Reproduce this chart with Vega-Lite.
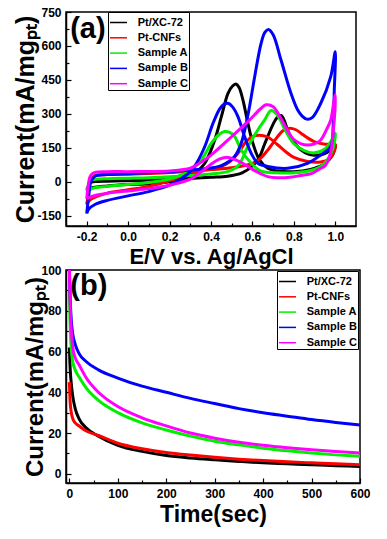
{
  "$schema": "https://vega.github.io/schema/vega-lite/v6.json",
  "background": "white",
  "padding": {"left": 13, "top": 5, "right": 5, "bottom": 5},
  "bounds": "flush",
  "spacing": 44,
  "config": {
    "font": "Liberation Sans",
    "view": {"stroke": "black", "strokeWidth": 1.5},
    "axis": {"domainColor": "black", "domainWidth": 1.5, "tickColor": "black", "tickWidth": 1.2, "labelColor": "black", "labelFontWeight": "bold", "labelFontSize": 12, "labelFont": "Liberation Sans", "titleFont": "Liberation Sans", "titleFontWeight": "bold", "titleColor": "black", "grid": false, "labelOverlap": false, "labelFlush": false},
    "legend": {"labelFont": "Liberation Sans", "labelFontWeight": "bold", "labelFontSize": 11, "labelColor": "black", "symbolType": "stroke", "symbolStrokeWidth": 1.5, "symbolSize": 289, "rowPadding": 0.3, "padding": 1, "labelOffset": 9.7, "strokeColor": "black", "fillColor": "white"}
  },
  "resolve": {"scale": {"color": "independent"}, "legend": {"color": "independent"}},
  "datasets": {
    "cv": [
      {"s":"Pt/XC-72","i":0,"E":-0.2,"I":-35},{"s":"Pt/XC-72","i":1,"E":-0.19,"I":-15},{"s":"Pt/XC-72","i":2,"E":-0.18,"I":-3},{"s":"Pt/XC-72","i":3,"E":-0.15,"I":2},{"s":"Pt/XC-72","i":4,"E":-0.1,"I":3},{"s":"Pt/XC-72","i":5,"E":0,"I":5},{"s":"Pt/XC-72","i":6,"E":0.1,"I":7},{"s":"Pt/XC-72","i":7,"E":0.2,"I":10},{"s":"Pt/XC-72","i":8,"E":0.3,"I":15},{"s":"Pt/XC-72","i":9,"E":0.4,"I":20},{"s":"Pt/XC-72","i":10,"E":0.48,"I":25},{"s":"Pt/XC-72","i":11,"E":0.55,"I":40},{"s":"Pt/XC-72","i":12,"E":0.6,"I":70},{"s":"Pt/XC-72","i":13,"E":0.634,"I":110},{"s":"Pt/XC-72","i":14,"E":0.658,"I":165},{"s":"Pt/XC-72","i":15,"E":0.7,"I":255},{"s":"Pt/XC-72","i":16,"E":0.72,"I":285},{"s":"Pt/XC-72","i":17,"E":0.738,"I":293},{"s":"Pt/XC-72","i":18,"E":0.755,"I":268},{"s":"Pt/XC-72","i":19,"E":0.77,"I":228},{"s":"Pt/XC-72","i":20,"E":0.8,"I":175},{"s":"Pt/XC-72","i":21,"E":0.834,"I":141},{"s":"Pt/XC-72","i":22,"E":0.87,"I":122},{"s":"Pt/XC-72","i":23,"E":0.898,"I":117},{"s":"Pt/XC-72","i":24,"E":0.94,"I":122},{"s":"Pt/XC-72","i":25,"E":0.978,"I":140},{"s":"Pt/XC-72","i":26,"E":1.0,"I":165},
      {"s":"Pt/XC-72","i":27,"E":0.99,"I":125},{"s":"Pt/XC-72","i":28,"E":0.97,"I":98},{"s":"Pt/XC-72","i":29,"E":0.94,"I":75},{"s":"Pt/XC-72","i":30,"E":0.88,"I":55},{"s":"Pt/XC-72","i":31,"E":0.8,"I":45},{"s":"Pt/XC-72","i":32,"E":0.72,"I":48},{"s":"Pt/XC-72","i":33,"E":0.674,"I":60},{"s":"Pt/XC-72","i":34,"E":0.634,"I":97},{"s":"Pt/XC-72","i":35,"E":0.602,"I":171},{"s":"Pt/XC-72","i":36,"E":0.578,"I":259},{"s":"Pt/XC-72","i":37,"E":0.554,"I":362},{"s":"Pt/XC-72","i":38,"E":0.535,"I":418},{"s":"Pt/XC-72","i":39,"E":0.52,"I":432},{"s":"Pt/XC-72","i":40,"E":0.503,"I":422},{"s":"Pt/XC-72","i":41,"E":0.482,"I":391},{"s":"Pt/XC-72","i":42,"E":0.45,"I":288},{"s":"Pt/XC-72","i":43,"E":0.418,"I":185},{"s":"Pt/XC-72","i":44,"E":0.37,"I":82},{"s":"Pt/XC-72","i":45,"E":0.322,"I":38},{"s":"Pt/XC-72","i":46,"E":0.28,"I":15},{"s":"Pt/XC-72","i":47,"E":0.2,"I":0},{"s":"Pt/XC-72","i":48,"E":0.1,"I":-8},{"s":"Pt/XC-72","i":49,"E":0,"I":-12},{"s":"Pt/XC-72","i":50,"E":-0.1,"I":-18},{"s":"Pt/XC-72","i":51,"E":-0.17,"I":-25},{"s":"Pt/XC-72","i":52,"E":-0.2,"I":-35},

      {"s":"Pt-CNFs","i":0,"E":-0.2,"I":-100},{"s":"Pt-CNFs","i":1,"E":-0.19,"I":-40},{"s":"Pt-CNFs","i":2,"E":-0.18,"I":10},{"s":"Pt-CNFs","i":3,"E":-0.16,"I":28},{"s":"Pt-CNFs","i":4,"E":-0.1,"I":32},{"s":"Pt-CNFs","i":5,"E":0,"I":34},{"s":"Pt-CNFs","i":6,"E":0.1,"I":37},{"s":"Pt-CNFs","i":7,"E":0.2,"I":41},{"s":"Pt-CNFs","i":8,"E":0.3,"I":47},{"s":"Pt-CNFs","i":9,"E":0.4,"I":54},{"s":"Pt-CNFs","i":10,"E":0.5,"I":62},{"s":"Pt-CNFs","i":11,"E":0.6,"I":82},{"s":"Pt-CNFs","i":12,"E":0.64,"I":105},{"s":"Pt-CNFs","i":13,"E":0.674,"I":140},{"s":"Pt-CNFs","i":14,"E":0.722,"I":200},{"s":"Pt-CNFs","i":15,"E":0.75,"I":228},{"s":"Pt-CNFs","i":16,"E":0.78,"I":237},{"s":"Pt-CNFs","i":17,"E":0.81,"I":230},{"s":"Pt-CNFs","i":18,"E":0.834,"I":215},{"s":"Pt-CNFs","i":19,"E":0.87,"I":192},{"s":"Pt-CNFs","i":20,"E":0.898,"I":178},{"s":"Pt-CNFs","i":21,"E":0.95,"I":166},{"s":"Pt-CNFs","i":22,"E":1.0,"I":163},
      {"s":"Pt-CNFs","i":23,"E":0.99,"I":125},{"s":"Pt-CNFs","i":24,"E":0.97,"I":100},{"s":"Pt-CNFs","i":25,"E":0.93,"I":88},{"s":"Pt-CNFs","i":26,"E":0.866,"I":90},{"s":"Pt-CNFs","i":27,"E":0.8,"I":108},{"s":"Pt-CNFs","i":28,"E":0.77,"I":126},{"s":"Pt-CNFs","i":29,"E":0.72,"I":165},{"s":"Pt-CNFs","i":30,"E":0.674,"I":198},{"s":"Pt-CNFs","i":31,"E":0.63,"I":206},{"s":"Pt-CNFs","i":32,"E":0.6,"I":200},{"s":"Pt-CNFs","i":33,"E":0.57,"I":178},{"s":"Pt-CNFs","i":34,"E":0.53,"I":126},{"s":"Pt-CNFs","i":35,"E":0.49,"I":88},{"s":"Pt-CNFs","i":36,"E":0.45,"I":68},{"s":"Pt-CNFs","i":37,"E":0.4,"I":56},{"s":"Pt-CNFs","i":38,"E":0.35,"I":48},{"s":"Pt-CNFs","i":39,"E":0.28,"I":28},{"s":"Pt-CNFs","i":40,"E":0.2,"I":5},{"s":"Pt-CNFs","i":41,"E":0.1,"I":-20},{"s":"Pt-CNFs","i":42,"E":0,"I":-35},{"s":"Pt-CNFs","i":43,"E":-0.1,"I":-50},{"s":"Pt-CNFs","i":44,"E":-0.16,"I":-68},{"s":"Pt-CNFs","i":45,"E":-0.19,"I":-85},{"s":"Pt-CNFs","i":46,"E":-0.2,"I":-100},

      {"s":"Sample A","i":0,"E":-0.2,"I":-40},{"s":"Sample A","i":1,"E":-0.19,"I":-15},{"s":"Sample A","i":2,"E":-0.18,"I":5},{"s":"Sample A","i":3,"E":-0.15,"I":12},{"s":"Sample A","i":4,"E":-0.1,"I":14},{"s":"Sample A","i":5,"E":0,"I":16},{"s":"Sample A","i":6,"E":0.1,"I":18},{"s":"Sample A","i":7,"E":0.2,"I":22},{"s":"Sample A","i":8,"E":0.3,"I":28},{"s":"Sample A","i":9,"E":0.4,"I":35},{"s":"Sample A","i":10,"E":0.48,"I":45},{"s":"Sample A","i":11,"E":0.53,"I":70},{"s":"Sample A","i":12,"E":0.578,"I":156},{"s":"Sample A","i":13,"E":0.626,"I":229},{"s":"Sample A","i":14,"E":0.66,"I":275},{"s":"Sample A","i":15,"E":0.69,"I":315},{"s":"Sample A","i":16,"E":0.72,"I":295},{"s":"Sample A","i":17,"E":0.76,"I":225},{"s":"Sample A","i":18,"E":0.8,"I":168},{"s":"Sample A","i":19,"E":0.85,"I":138},{"s":"Sample A","i":20,"E":0.9,"I":128},{"s":"Sample A","i":21,"E":0.95,"I":145},{"s":"Sample A","i":22,"E":0.98,"I":180},{"s":"Sample A","i":23,"E":1.0,"I":215},
      {"s":"Sample A","i":24,"E":0.99,"I":150},{"s":"Sample A","i":25,"E":0.97,"I":110},{"s":"Sample A","i":26,"E":0.94,"I":75},{"s":"Sample A","i":27,"E":0.88,"I":50},{"s":"Sample A","i":28,"E":0.8,"I":40},{"s":"Sample A","i":29,"E":0.72,"I":40},{"s":"Sample A","i":30,"E":0.642,"I":47},{"s":"Sample A","i":31,"E":0.594,"I":82},{"s":"Sample A","i":32,"E":0.546,"I":141},{"s":"Sample A","i":33,"E":0.514,"I":200},{"s":"Sample A","i":34,"E":0.49,"I":218},{"s":"Sample A","i":35,"E":0.466,"I":222},{"s":"Sample A","i":36,"E":0.44,"I":210},{"s":"Sample A","i":37,"E":0.402,"I":171},{"s":"Sample A","i":38,"E":0.354,"I":97},{"s":"Sample A","i":39,"E":0.306,"I":53},{"s":"Sample A","i":40,"E":0.25,"I":28},{"s":"Sample A","i":41,"E":0.2,"I":12},{"s":"Sample A","i":42,"E":0.1,"I":-3},{"s":"Sample A","i":43,"E":0,"I":-12},{"s":"Sample A","i":44,"E":-0.1,"I":-20},{"s":"Sample A","i":45,"E":-0.17,"I":-28},{"s":"Sample A","i":46,"E":-0.2,"I":-40},

      {"s":"Sample B","i":0,"E":-0.2,"I":-140},{"s":"Sample B","i":1,"E":-0.19,"I":-60},{"s":"Sample B","i":2,"E":-0.18,"I":0},{"s":"Sample B","i":3,"E":-0.16,"I":25},{"s":"Sample B","i":4,"E":-0.1,"I":32},{"s":"Sample B","i":5,"E":0,"I":36},{"s":"Sample B","i":6,"E":0.1,"I":40},{"s":"Sample B","i":7,"E":0.2,"I":45},{"s":"Sample B","i":8,"E":0.3,"I":52},{"s":"Sample B","i":9,"E":0.37,"I":58},{"s":"Sample B","i":10,"E":0.45,"I":72},{"s":"Sample B","i":11,"E":0.514,"I":112},{"s":"Sample B","i":12,"E":0.546,"I":171},{"s":"Sample B","i":13,"E":0.57,"I":259},{"s":"Sample B","i":14,"E":0.586,"I":332},{"s":"Sample B","i":15,"E":0.61,"I":460},{"s":"Sample B","i":16,"E":0.642,"I":612},{"s":"Sample B","i":17,"E":0.66,"I":660},{"s":"Sample B","i":18,"E":0.677,"I":673},{"s":"Sample B","i":19,"E":0.7,"I":650},{"s":"Sample B","i":20,"E":0.738,"I":538},{"s":"Sample B","i":21,"E":0.786,"I":391},{"s":"Sample B","i":22,"E":0.818,"I":318},{"s":"Sample B","i":23,"E":0.84,"I":290},{"s":"Sample B","i":24,"E":0.862,"I":277},{"s":"Sample B","i":25,"E":0.89,"I":285},{"s":"Sample B","i":26,"E":0.93,"I":347},{"s":"Sample B","i":27,"E":0.978,"I":465},{"s":"Sample B","i":28,"E":1.0,"I":575},
      {"s":"Sample B","i":29,"E":0.995,"I":400},{"s":"Sample B","i":30,"E":0.99,"I":250},{"s":"Sample B","i":31,"E":0.978,"I":156},{"s":"Sample B","i":32,"E":0.93,"I":119},{"s":"Sample B","i":33,"E":0.866,"I":82},{"s":"Sample B","i":34,"E":0.77,"I":60},{"s":"Sample B","i":35,"E":0.674,"I":68},{"s":"Sample B","i":36,"E":0.626,"I":82},{"s":"Sample B","i":37,"E":0.594,"I":126},{"s":"Sample B","i":38,"E":0.562,"I":200},{"s":"Sample B","i":39,"E":0.53,"I":288},{"s":"Sample B","i":40,"E":0.505,"I":330},{"s":"Sample B","i":41,"E":0.482,"I":347},{"s":"Sample B","i":42,"E":0.462,"I":342},{"s":"Sample B","i":43,"E":0.442,"I":322},{"s":"Sample B","i":44,"E":0.41,"I":259},{"s":"Sample B","i":45,"E":0.37,"I":156},{"s":"Sample B","i":46,"E":0.33,"I":82},{"s":"Sample B","i":47,"E":0.3,"I":45},{"s":"Sample B","i":48,"E":0.25,"I":10},{"s":"Sample B","i":49,"E":0.2,"I":-15},{"s":"Sample B","i":50,"E":0.1,"I":-43},{"s":"Sample B","i":51,"E":0,"I":-62},{"s":"Sample B","i":52,"E":-0.1,"I":-82},{"s":"Sample B","i":53,"E":-0.16,"I":-100},{"s":"Sample B","i":54,"E":-0.19,"I":-120},{"s":"Sample B","i":55,"E":-0.2,"I":-140},

      {"s":"Sample C","i":0,"E":-0.2,"I":-75},{"s":"Sample C","i":1,"E":-0.19,"I":0},{"s":"Sample C","i":2,"E":-0.18,"I":30},{"s":"Sample C","i":3,"E":-0.16,"I":42},{"s":"Sample C","i":4,"E":-0.1,"I":45},{"s":"Sample C","i":5,"E":0,"I":45},{"s":"Sample C","i":6,"E":0.1,"I":46},{"s":"Sample C","i":7,"E":0.2,"I":48},{"s":"Sample C","i":8,"E":0.3,"I":60},{"s":"Sample C","i":9,"E":0.35,"I":85},{"s":"Sample C","i":10,"E":0.4,"I":118},{"s":"Sample C","i":11,"E":0.482,"I":185},{"s":"Sample C","i":12,"E":0.578,"I":266},{"s":"Sample C","i":13,"E":0.642,"I":325},{"s":"Sample C","i":14,"E":0.666,"I":340},{"s":"Sample C","i":15,"E":0.7,"I":332},{"s":"Sample C","i":16,"E":0.738,"I":280},{"s":"Sample C","i":17,"E":0.77,"I":225},{"s":"Sample C","i":18,"E":0.802,"I":185},{"s":"Sample C","i":19,"E":0.835,"I":168},{"s":"Sample C","i":20,"E":0.866,"I":163},{"s":"Sample C","i":21,"E":0.9,"I":168},{"s":"Sample C","i":22,"E":0.93,"I":185},{"s":"Sample C","i":23,"E":0.96,"I":235},{"s":"Sample C","i":24,"E":0.978,"I":273},{"s":"Sample C","i":25,"E":0.994,"I":360},{"s":"Sample C","i":26,"E":1.0,"I":385},
      {"s":"Sample C","i":27,"E":0.99,"I":220},{"s":"Sample C","i":28,"E":0.975,"I":120},{"s":"Sample C","i":29,"E":0.95,"I":70},{"s":"Sample C","i":30,"E":0.93,"I":60},{"s":"Sample C","i":31,"E":0.88,"I":35},{"s":"Sample C","i":32,"E":0.834,"I":28},{"s":"Sample C","i":33,"E":0.78,"I":20},{"s":"Sample C","i":34,"E":0.72,"I":18},{"s":"Sample C","i":35,"E":0.674,"I":23},{"s":"Sample C","i":36,"E":0.62,"I":45},{"s":"Sample C","i":37,"E":0.578,"I":68},{"s":"Sample C","i":38,"E":0.54,"I":88},{"s":"Sample C","i":39,"E":0.498,"I":104},{"s":"Sample C","i":40,"E":0.47,"I":108},{"s":"Sample C","i":41,"E":0.44,"I":100},{"s":"Sample C","i":42,"E":0.4,"I":78},{"s":"Sample C","i":43,"E":0.35,"I":42},{"s":"Sample C","i":44,"E":0.3,"I":12},{"s":"Sample C","i":45,"E":0.2,"I":-15},{"s":"Sample C","i":46,"E":0.1,"I":-30},{"s":"Sample C","i":47,"E":0,"I":-40},{"s":"Sample C","i":48,"E":-0.1,"I":-50},{"s":"Sample C","i":49,"E":-0.16,"I":-60},{"s":"Sample C","i":50,"E":-0.19,"I":-70},{"s":"Sample C","i":51,"E":-0.2,"I":-75}
    ],
    "ca": [
      {"s":"Pt/XC-72","t":0,"I":62},{"s":"Pt/XC-72","t":1,"I":55},{"s":"Pt/XC-72","t":2,"I":50},{"s":"Pt/XC-72","t":4,"I":44},{"s":"Pt/XC-72","t":7,"I":38},{"s":"Pt/XC-72","t":12,"I":32},{"s":"Pt/XC-72","t":20,"I":27},{"s":"Pt/XC-72","t":35,"I":22.5},{"s":"Pt/XC-72","t":60,"I":18.5},{"s":"Pt/XC-72","t":100,"I":14},{"s":"Pt/XC-72","t":150,"I":11},{"s":"Pt/XC-72","t":200,"I":9},{"s":"Pt/XC-72","t":250,"I":7.8},{"s":"Pt/XC-72","t":300,"I":6.9},{"s":"Pt/XC-72","t":350,"I":6.1},{"s":"Pt/XC-72","t":400,"I":5.4},{"s":"Pt/XC-72","t":450,"I":4.9},{"s":"Pt/XC-72","t":500,"I":4.4},{"s":"Pt/XC-72","t":550,"I":4},{"s":"Pt/XC-72","t":600,"I":3.6},
      {"s":"Pt-CNFs","t":0,"I":45},{"s":"Pt-CNFs","t":1,"I":38},{"s":"Pt-CNFs","t":2,"I":34},{"s":"Pt-CNFs","t":4,"I":30},{"s":"Pt-CNFs","t":7,"I":27},{"s":"Pt-CNFs","t":12,"I":25},{"s":"Pt-CNFs","t":20,"I":23.5},{"s":"Pt-CNFs","t":35,"I":21},{"s":"Pt-CNFs","t":60,"I":18.8},{"s":"Pt-CNFs","t":100,"I":15},{"s":"Pt-CNFs","t":150,"I":12.3},{"s":"Pt-CNFs","t":200,"I":10.5},{"s":"Pt-CNFs","t":250,"I":9.2},{"s":"Pt-CNFs","t":300,"I":8.1},{"s":"Pt-CNFs","t":350,"I":7.2},{"s":"Pt-CNFs","t":400,"I":6.5},{"s":"Pt-CNFs","t":450,"I":5.9},{"s":"Pt-CNFs","t":500,"I":5.4},{"s":"Pt-CNFs","t":550,"I":4.9},{"s":"Pt-CNFs","t":600,"I":4.5},
      {"s":"Sample A","t":0,"I":90},{"s":"Sample A","t":1,"I":78},{"s":"Sample A","t":2,"I":70},{"s":"Sample A","t":4,"I":61},{"s":"Sample A","t":7,"I":55},{"s":"Sample A","t":12,"I":51},{"s":"Sample A","t":20,"I":47.5},{"s":"Sample A","t":35,"I":42},{"s":"Sample A","t":60,"I":36},{"s":"Sample A","t":100,"I":30},{"s":"Sample A","t":150,"I":25},{"s":"Sample A","t":200,"I":21.5},{"s":"Sample A","t":250,"I":18.5},{"s":"Sample A","t":300,"I":16},{"s":"Sample A","t":350,"I":14.2},{"s":"Sample A","t":400,"I":12.6},{"s":"Sample A","t":450,"I":11.3},{"s":"Sample A","t":500,"I":10.2},{"s":"Sample A","t":550,"I":9.3},{"s":"Sample A","t":600,"I":8.6},
      {"s":"Sample B","t":0,"I":100},{"s":"Sample B","t":1,"I":92},{"s":"Sample B","t":2,"I":84},{"s":"Sample B","t":4,"I":75},{"s":"Sample B","t":7,"I":68.5},{"s":"Sample B","t":12,"I":63.5},{"s":"Sample B","t":20,"I":59},{"s":"Sample B","t":35,"I":55},{"s":"Sample B","t":60,"I":51},{"s":"Sample B","t":100,"I":47},{"s":"Sample B","t":150,"I":43},{"s":"Sample B","t":200,"I":40},{"s":"Sample B","t":250,"I":37},{"s":"Sample B","t":300,"I":34.5},{"s":"Sample B","t":350,"I":32},{"s":"Sample B","t":400,"I":30},{"s":"Sample B","t":450,"I":28.3},{"s":"Sample B","t":500,"I":26.6},{"s":"Sample B","t":550,"I":25.2},{"s":"Sample B","t":600,"I":24},
      {"s":"Sample C","t":0,"I":100},{"s":"Sample C","t":1,"I":90},{"s":"Sample C","t":2,"I":80},{"s":"Sample C","t":4,"I":70},{"s":"Sample C","t":7,"I":62},{"s":"Sample C","t":12,"I":57},{"s":"Sample C","t":20,"I":53.5},{"s":"Sample C","t":35,"I":47},{"s":"Sample C","t":60,"I":40},{"s":"Sample C","t":100,"I":33},{"s":"Sample C","t":150,"I":27.5},{"s":"Sample C","t":200,"I":23.5},{"s":"Sample C","t":250,"I":20},{"s":"Sample C","t":300,"I":17.5},{"s":"Sample C","t":350,"I":15.5},{"s":"Sample C","t":400,"I":14},{"s":"Sample C","t":450,"I":12.8},{"s":"Sample C","t":500,"I":11.8},{"s":"Sample C","t":550,"I":10.9},{"s":"Sample C","t":600,"I":10.2}
    ]
  },
  "vconcat": [
    {
      "width": 290,
      "height": 214,
      "encoding": {
        "x": {"field": "E", "type": "quantitative", "scale": {"domain": [-0.3, 1.1], "nice": false, "zero": false},
          "axis": {"values": [-0.2,-0.1,0,0.1,0.2,0.3,0.4,0.5,0.6,0.7,0.8,0.9,1.0],
            "labelExpr": "round(datum.value*10)%2==0 ? replace(format(datum.value,'.1f'),'\u2212','-') : ''",
            "tickSize": {"condition": {"test": "round(datum.value*10)%2!=0", "value": -3}, "value": -5},
            "labelPadding": 10, "title": "E/V vs. Ag/AgCl", "titleFontSize": 22, "titlePadding": 2}},
        "y": {"field": "I", "type": "quantitative", "scale": {"domain": [-195, 750], "nice": false, "zero": false},
          "axis": {"values": [-150,-75,0,75,150,225,300,375,450,525,600,675,750],
            "labelExpr": "datum.value%150==0 ? replace(format(datum.value,'d'),'\u2212','-') : ''",
            "tickSize": {"condition": {"test": "datum.value%150!=0", "value": -3}, "value": -5},
            "labelPadding": 10, "title": "Current(mA/mgₚₜ)", "titleFontSize": 25, "titlePadding": -2}}
      },
      "layer": [
        {
          "data": {"name": "cv"},
          "mark": {"type": "line", "strokeWidth": 3, "interpolate": "catmull-rom"},
          "encoding": {
            "color": {"field": "s", "type": "nominal",
              "scale": {"domain": ["Pt/XC-72","Pt-CNFs","Sample A","Sample B","Sample C"], "range": ["#000000","#ff0000","#00ee00","#0000ff","#ff00ff"]},
              "legend": {"title": null, "orient": "none", "legendX": 42, "legendY": 0}},
            "order": {"field": "i", "type": "quantitative"}
          }
        },
        {
          "data": {"values": [{"E": -0.28, "I": 675, "lab": "(a)"}]},
          "mark": {"type": "text", "align": "left", "baseline": "middle", "fontSize": 29, "fontWeight": "bold", "font": "Liberation Sans", "color": "black"},
          "encoding": {"text": {"field": "lab"}}
        }
      ]
    },
    {
      "width": 294,
      "height": 213,
      "encoding": {
        "x": {"field": "t", "type": "quantitative", "scale": {"domain": [-7, 600], "nice": false, "zero": false},
          "axis": {"values": [0,50,100,150,200,250,300,350,400,450,500,550,600],
            "labelExpr": "datum.value%100==0 ? format(datum.value,'d') : ''",
            "tickSize": {"condition": {"test": "datum.value%100!=0", "value": -3}, "value": -5},
            "labelPadding": 10, "title": "Time(sec)", "titleFontSize": 23, "titlePadding": 2}},
        "y": {"field": "I", "type": "quantitative", "scale": {"domain": [-4.5, 100], "nice": false, "zero": false},
          "axis": {"values": [0,10,20,30,40,50,60,70,80,90,100],
            "labelExpr": "datum.value%20==0 ? format(datum.value,'d') : ''",
            "tickSize": {"condition": {"test": "datum.value%20!=0", "value": -3}, "value": -5},
            "labelPadding": 10, "title": "Current(mA/mgₚₜ)", "titleFontSize": 24, "titlePadding": -7}}
      },
      "layer": [
        {
          "data": {"name": "ca"},
          "mark": {"type": "line", "strokeWidth": 3, "interpolate": "monotone"},
          "encoding": {
            "color": {"field": "s", "type": "nominal",
              "scale": {"domain": ["Pt/XC-72","Pt-CNFs","Sample A","Sample B","Sample C"], "range": ["#000000","#ff0000","#00ee00","#0000ff","#ff00ff"]},
              "legend": {"title": null, "orient": "none", "legendX": 211, "legendY": 1}}
          }
        },
        {
          "data": {"values": [{"t": 2, "I": 92, "lab": "(b)"}]},
          "mark": {"type": "text", "align": "left", "baseline": "middle", "fontSize": 29, "fontWeight": "bold", "font": "Liberation Sans", "color": "black"},
          "encoding": {"text": {"field": "lab"}}
        }
      ]
    }
  ]
}
